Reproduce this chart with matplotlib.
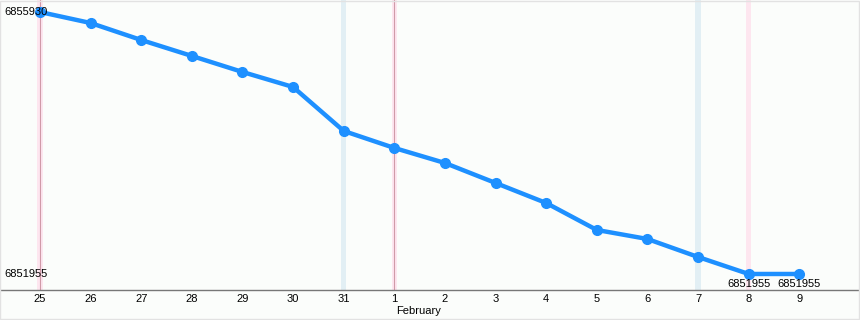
import matplotlib
matplotlib.use("Agg")
import matplotlib.pyplot as plt
from matplotlib.patches import Rectangle

days = ["25", "26", "27", "28", "29", "30", "31", "1", "2", "3", "4", "5", "6", "7", "8", "9"]
values = [6855930, 6855763, 6855505, 6855263, 6855020, 6854792, 6854125, 6853867,
          6853639, 6853336, 6853032, 6852623, 6852486, 6852213, 6851955, 6851955]
saturdays = ["31", "7"]
sundays = ["25", "1", "8"]
month_starts = ["25", "1"]
month_label = "February"
month_label_day = "1"

plt.rcParams['font.family'] = ['Liberation Sans', 'DejaVu Sans']

fig = plt.figure(figsize=(8.6, 3.2), dpi=100)
fig.patch.set_facecolor('#fbfdfb')
ax = fig.add_axes([0, 30 / 320, 1, 290 / 320])
ax.set_facecolor('#fbfdfb')

x = list(range(len(days)))
for d in saturdays:
    i = days.index(d)
    ax.axvspan(i - 0.055, i + 0.055, color='#e2eff4', zorder=0, lw=0)
for d in sundays:
    i = days.index(d)
    ax.axvspan(i - 0.055, i + 0.055, color='#fde6ef', zorder=0, lw=0)
for d in month_starts:
    i = days.index(d)
    ax.axvline(i, color='#d09aa8', lw=0.8, zorder=1)

ax.plot(x, values, color='#1e90ff', lw=3.2, marker='o', markersize=7, zorder=3,
        solid_joinstyle='round')

ax.set_xlim(-0.79, 16.2)
ax.set_ylim(6851712, 6856112)

# min/max labels
vmax, vmin = max(values), min(values)
ax.text(4 / 50.6 - 0.79, vmax, str(vmax), fontsize=8, va='center', ha='left', zorder=4)
ax.text(4 / 50.6 - 0.79, vmin, str(vmin), fontsize=8, va='center', ha='left', zorder=4)
for i, v in enumerate(values):
    if v == vmin:
        ax.text(i, v - 80, str(v), fontsize=8, va='top', ha='center', zorder=4)

for s in ['top', 'right', 'left']:
    ax.spines[s].set_visible(False)
ax.spines['bottom'].set_color('#777777')
ax.spines['bottom'].set_linewidth(1)
ax.set_yticks([])
ax.set_xticks(x)
ax.set_xticklabels(days, fontsize=8)
ax.tick_params(axis='x', length=0, pad=3)

mi = days.index(month_label_day)
ax.text(mi + 0.04, -0.055, month_label, transform=ax.get_xaxis_transform(),
        fontsize=8, ha='left', va='top')

fig.patches.append(Rectangle((0.0005, 0.002), 0.998, 0.996, transform=fig.transFigure,
                             fill=False, edgecolor='#e2e2e2', lw=1, zorder=10))

fig.savefig('out.png', dpi=100, facecolor=fig.get_facecolor())
